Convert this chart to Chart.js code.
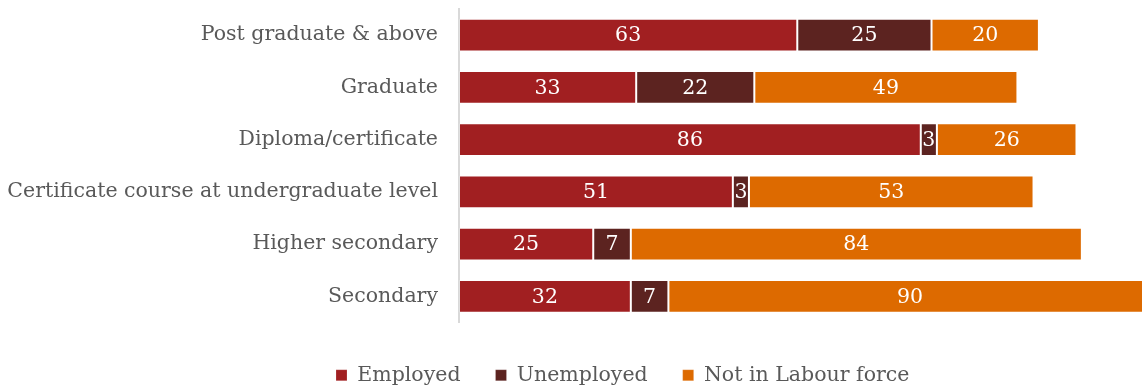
<!DOCTYPE html>
<html>
<head>
<meta charset="utf-8">
<script src="https://cdn.jsdelivr.net/npm/chart.js@4/dist/chart.umd.min.js"></script>
<style>
  html, body { margin: 0; padding: 0; background: #fff; }
  #wrap { width: 1142px; height: 388px; position: relative; }
</style>
</head>
<body>
<div id="wrap"><canvas id="c"></canvas></div>
<script>
// Education level categories (top to bottom)
const categories = [
  'Post graduate & above',
  'Graduate',
  'Diploma/certificate',
  'Certificate course at undergraduate level',
  'Higher secondary',
  'Secondary'
];

// Series values
const employed     = [63, 33, 86, 51, 25, 32];
const unemployed   = [25, 22, 3, 3, 7, 7];
const notInLabour  = [20, 49, 26, 53, 84, 90];

const seriesNames  = ['Employed', 'Unemployed', 'Not in Labour force'];
const seriesColors = ['#A11F21', '#5C2320', '#DD6A00'];

const FONT = "'DejaVu Serif', 'Liberation Serif', serif";
const FONT_SIZE = 20.5;
const TEXT_GREY = '#595959';

// Writes each segment's value in the middle of its bar
const barValueLabels = {
  id: 'barValueLabels',
  afterDatasetsDraw(chart) {
    const ctx = chart.ctx;
    ctx.save();
    ctx.font = FONT_SIZE + 'px ' + FONT;
    ctx.fillStyle = '#ffffff';
    ctx.textAlign = 'center';
    ctx.textBaseline = 'middle';
    chart.data.datasets.forEach((ds, di) => {
      const meta = chart.getDatasetMeta(di);
      meta.data.forEach((bar, i) => {
        const v = ds.data[i];
        const cx = (bar.x + bar.base) / 2;
        ctx.fillText(String(v), cx, bar.y + 1);
      });
    });
    ctx.restore();
  }
};

// Places the legend row under the bars
const legendPlacement = {
  id: 'legendPlacement',
  afterLayout(chart) {
    const lg = chart.legend;
    if (!lg) return;
    const pad = lg.options.labels.padding;
    const w = lg.right - lg.left;
    lg.left = 336 - pad;
    lg.right = lg.left + w;
    const h = lg.bottom - lg.top;
    lg.top = 330;
    lg.bottom = lg.top + h;
  }
};

const datasets = [employed, unemployed, notInLabour].map((vals, k) => ({
  label: seriesNames[k],
  data: vals,
  backgroundColor: seriesColors[k],
  borderColor: 'rgba(255,255,255,0.18)',
  borderWidth: 1,
  borderSkipped: false,
  barPercentage: 0.63,
  categoryPercentage: 1.0
}));

new Chart(document.getElementById('c'), {
  type: 'bar',
  data: { labels: categories, datasets },
  plugins: [barValueLabels, legendPlacement],
  options: {
    indexAxis: 'y',
    responsive: true,
    maintainAspectRatio: false,
    animation: false,
    layout: { padding: { top: 9, right: 0, bottom: 0, left: 0 } },
    scales: {
      x: {
        stacked: true,
        display: false,
        min: 0,
        max: 127.2
      },
      y: {
        stacked: true,
        afterFit(scale) {
          scale.width = 459;
          scale.paddingTop = 0;
          scale.paddingBottom = 0;
        },
        grid: { display: true, drawOnChartArea: false, drawTicks: false, tickLength: 0 },
        border: { display: true, color: '#d9d9d9', width: 2 },
        ticks: {
          color: TEXT_GREY,
          padding: 21,
          font: { family: FONT, size: FONT_SIZE }
        }
      }
    },
    plugins: {
      tooltip: { enabled: false },
      legend: {
        position: 'bottom',
        align: 'start',
        labels: {
          boxWidth: 11,
          boxHeight: 11,
          padding: 35,
          color: TEXT_GREY,
          font: { family: FONT, size: FONT_SIZE, lineHeight: 1 }
        }
      }
    }
  }
});
</script>
</body>
</html>
